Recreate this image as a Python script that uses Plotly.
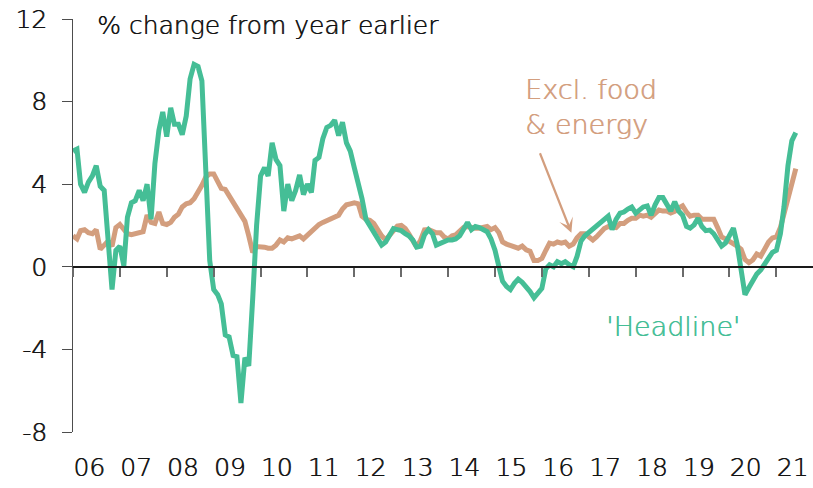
import plotly.graph_objects as go
import pandas as pd

# ---- data (monthly, Jan 2006 - Jun 2021), % change y/y ----
months = pd.date_range("2006-01-01", periods=186, freq="MS")

headline = [
    5.6, 5.7, 4.0, 3.6, 4.1, 4.4, 4.9, 3.9, 3.7, 1.3, -1.1, 0.8,          # 2006
    1.0, 0.05, 2.4, 3.1, 3.2, 3.7, 3.2, 4.0, 2.3, 5.0, 6.6, 7.5,          # 2007
    6.3, 7.7, 6.9, 6.9, 6.4, 7.3, 9.1, 9.8, 9.7, 9.0, 5.0, 0.3,           # 2008
    -1.1, -1.35, -1.8, -3.3, -3.4, -4.3, -4.35, -6.6, -4.4, -4.8, -1.5, 2.0,  # 2009
    4.4, 4.8, 4.4, 6.0, 5.2, 4.9, 2.7, 4.0, 3.2, 3.7, 4.45, 3.5,          # 2010
    4.0, 3.6, 5.15, 5.3, 6.2, 6.75, 6.85, 7.1, 6.35, 7.0, 6.0, 5.6,       # 2011
    4.8, 4.1, 3.3, 2.3, 2.0, 1.65, 1.3, 1.05, 1.2, 1.5, 1.85, 1.8,        # 2012
    1.75, 1.6, 1.5, 1.3, 0.95, 1.0, 1.55, 1.8, 1.6, 1.05, 1.15, 1.25,     # 2013
    1.3, 1.3, 1.35, 1.5, 1.8, 2.15, 1.8, 1.95, 1.9, 1.8, 1.7, 1.35,       # 2014
    0.8, 0.0, -0.7, -0.95, -1.1, -0.8, -0.6, -0.75, -0.95, -1.2, -1.5, -1.3,  # 2015
    -1.05, -0.1, 0.1, 0.0, 0.25, 0.15, 0.25, 0.1, 0.0, 0.5, 1.25, 1.5,    # 2016
    1.65, 1.85, 2.0, 2.1, 2.3, 2.45, 1.8, 2.3, 2.6, 2.65, 2.8, 2.9,       # 2017
    2.6, 2.8, 2.9, 2.95, 2.5, 3.0, 3.35, 3.35, 3.0, 2.7, 3.15, 2.7,       # 2018
    2.5, 1.95, 1.87, 2.03, 2.35, 1.95, 1.75, 1.78, 1.6, 1.3, 1.0, 1.15,   # 2019
    1.5, 1.87, 1.1, -0.1, -1.35, -1.0, -0.65, -0.35, -0.15, 0.1, 0.45, 0.7,  # 2020
    0.8, 1.6, 2.9, 4.9, 6.1, 6.5,                                         # 2021
]

core = [
    1.5, 1.35, 1.75, 1.8, 1.65, 1.6, 1.8, 0.85, 1.05, 1.25, 1.0, 1.9,     # 2006
    2.05, 1.8, 1.6, 1.55, 1.6, 1.65, 1.7, 2.5, 2.15, 2.1, 2.65, 2.1,      # 2007
    2.05, 2.15, 2.4, 2.55, 2.9, 3.05, 3.1, 3.3, 3.6, 3.95, 4.35, 4.5,     # 2008
    4.5, 4.15, 3.8, 3.75, 3.45, 3.1, 2.85, 2.45, 2.2, 1.5, 0.7, 0.98,     # 2009
    0.98, 0.95, 0.9, 0.9, 1.05, 1.3, 1.2, 1.4, 1.35, 1.45, 1.5, 1.35,     # 2010
    1.55, 1.75, 1.9, 2.05, 2.15, 2.25, 2.35, 2.45, 2.5, 2.8, 3.0, 3.05,   # 2011
    3.1, 3.05, 2.45, 2.3, 2.25, 2.1, 1.8, 1.5, 1.3, 1.5, 1.75, 1.97,      # 2012
    2.0, 1.85, 1.6, 1.3, 0.95, 1.3, 1.79, 1.8, 1.7, 1.65, 1.65, 1.45,     # 2013
    1.35, 1.5, 1.55, 1.75, 1.9, 1.95, 1.9, 1.87, 1.87, 1.9, 1.95, 1.8,    # 2014
    1.9, 1.65, 1.2, 1.1, 1.05, 1.0, 0.9, 1.0, 0.82, 0.75, 0.3, 0.3,       # 2015
    0.4, 0.8, 1.15, 1.1, 1.2, 1.15, 1.2, 1.0, 1.1, 1.4, 1.6, 1.6,         # 2016
    1.45, 1.3, 1.45, 1.65, 1.85, 1.95, 1.9, 1.9, 2.1, 2.1, 2.25, 2.35,    # 2017
    2.35, 2.5, 2.45, 2.5, 2.4, 2.55, 2.75, 2.7, 2.7, 2.6, 2.68, 2.85,     # 2018
    2.95, 2.65, 2.45, 2.5, 2.5, 2.3, 2.3, 2.35, 2.3, 1.9, 1.45, 1.35,     # 2019
    1.25, 1.15, 1.0, 0.85, 0.35, 0.2, 0.33, 0.62, 0.52, 0.85, 1.2, 1.4,   # 2020
    1.45, 1.9, 2.6, 3.4, 4.2, 4.75,                                       # 2021
]

year_starts = pd.date_range("2006-01-01", "2021-01-01", freq="YS")
year_label_pos = [d + pd.Timedelta(days=125) for d in year_starts]
year_labels = ["06", "07", "08", "09", "10", "11", "12", "13", "14", "15",
               "16", "17", "18", "19", "20", "21"]
y_ticks = [-8, -4, 0, 4, 8, 12]
y_tick_text = ["-8", "-4", "0", "4", "8", "12"]

GREEN = "#45BE96"
TAN = "#D39E7E"
INK = "#141414"
FONT = "DejaVu Sans"
X_RANGE = ["2006-01-01", "2021-10-13"]


def light_font(size, color):
    # light face, slightly thickened with a same-colour shadow
    return dict(size=size, family=FONT, color=color, weight=300,
                shadow=f"0.6px 0px 0px {color}")


fig = go.Figure()
fig.add_trace(go.Scatter(x=months, y=core, mode="lines",
                         line=dict(color=TAN, width=5), xaxis="x", yaxis="y",
                         hoverinfo="skip", showlegend=False))
fig.add_trace(go.Scatter(x=months, y=headline, mode="lines",
                         line=dict(color=GREEN, width=5), xaxis="x2", yaxis="y",
                         hoverinfo="skip", showlegend=False))

fig.update_layout(
    width=813, height=488,
    margin=dict(l=73, r=0, t=19, b=56, autoexpand=False),
    paper_bgcolor="white", plot_bgcolor="white",
    font=dict(family=FONT, color=INK),
    xaxis=dict(type="date", range=X_RANGE, showgrid=False, zeroline=False,
               showline=False, tickmode="array", tickvals=year_label_pos,
               ticktext=year_labels, ticks="", ticklabelstandoff=18,
               ticklabeloverflow="allow", automargin=False,
               tickfont=light_font(25, INK)),
    xaxis2=dict(type="date", range=X_RANGE, overlaying="x", anchor="free",
                position=0.4, side="bottom", showgrid=False, zeroline=False,
                showline=True, linecolor="#1a1a1a", linewidth=1.5,
                ticks="outside", ticklen=9, tickwidth=1.5, tickcolor="#6b6b6b",
                tickmode="array", tickvals=year_starts, showticklabels=False,
                automargin=False),
    yaxis=dict(range=[-8, 12], showgrid=False, zeroline=False,
               showline=True, linecolor="#4d4d4d", linewidth=1,
               ticks="outside", ticklen=10, tickwidth=1, tickcolor="#4d4d4d",
               tickmode="array", tickvals=y_ticks, ticktext=y_tick_text,
               ticklabelstandoff=10, automargin=False,
               tickfont=light_font(25, INK)),
)

fig.add_annotation(text="% change from year earlier", xref="paper", yref="paper",
                   x=(95 - 73) / 740, y=(432 - 25) / 413, xanchor="left",
                   yanchor="middle", showarrow=False, font=light_font(25, INK))
fig.add_annotation(text="Excl. food<br>& energy", x=pd.Timestamp("2015-08-10"), y=7.75,
                   xref="x", yref="y", xanchor="left", yanchor="middle", align="left",
                   showarrow=False, font=light_font(27, TAN))
fig.add_annotation(text="'Headline'", x=pd.Timestamp("2018-10-15"), y=-2.9,
                   xref="x", yref="y", xanchor="center", yanchor="middle",
                   showarrow=False, font=light_font(27, GREEN))
fig.add_annotation(text="", x=pd.Timestamp("2016-08-18"), y=1.65, xref="x", yref="y",
                   showarrow=True, ax=-32, ay=-81, arrowhead=3, arrowsize=1.1,
                   arrowwidth=2.2, arrowcolor=TAN, standoff=0)

fig.write_html("out.html", config={"displayModeBar": False},
               post_script="document.body.style.margin='0px';")
